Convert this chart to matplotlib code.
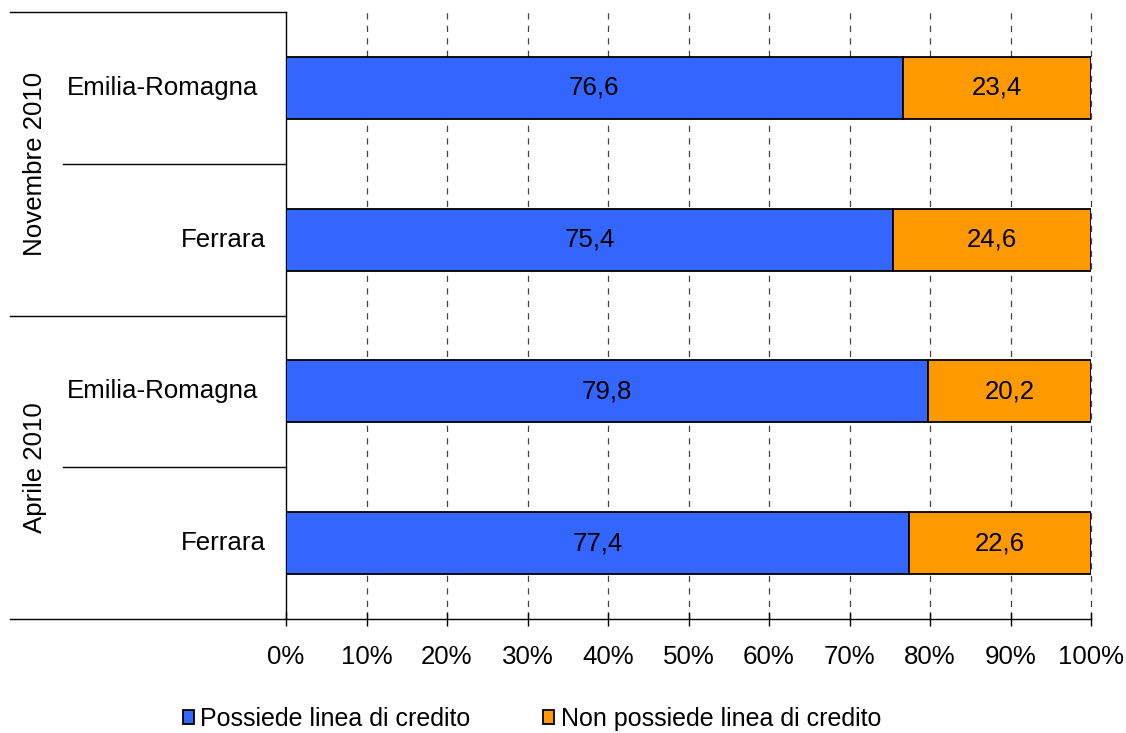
import matplotlib.pyplot as plt
import numpy as np

plt.rcParams['font.family'] = ['Liberation Sans', 'DejaVu Sans']

# data, listed bottom to top
regions = ["Ferrara", "Emilia-Romagna", "Ferrara", "Emilia-Romagna"]
periods = ["Aprile 2010", "Novembre 2010"]
con_credito = [77.4, 79.8, 75.4, 76.6]
senza_credito = [22.6, 20.2, 24.6, 23.4]
x_ticks = [0, 10, 20, 30, 40, 50, 60, 70, 80, 90, 100]

blue = "#3366FF"
orange = "#FF9900"
fs = 18.6

fig = plt.figure(figsize=(11.26, 7.33), dpi=100)
ax = fig.add_axes([286 / 1126, 1 - 619 / 733, 805 / 1126, 607 / 733])

y = np.arange(len(regions))
h = 0.41
b1 = ax.barh(y, con_credito, height=h, color=blue, edgecolor="black", linewidth=1.3,
             label="Possiede linea di credito", zorder=3)
b2 = ax.barh(y, senza_credito, left=con_credito, height=h, color=orange, edgecolor="black",
             linewidth=1.3, label="Non possiede linea di credito", zorder=3)
ax.bar_label(b1, labels=[f"{v:.1f}".replace(".", ",") for v in con_credito],
             label_type="center", fontsize=fs)
ax.bar_label(b2, labels=[f"{v:.1f}".replace(".", ",") for v in senza_credito],
             label_type="center", fontsize=fs)

ax.set_xlim(0, 100)
ax.set_ylim(-0.5, len(regions) - 0.5)
ax.set_xticks(x_ticks)
ax.set_xticklabels([f"{t}%" for t in x_ticks], fontsize=fs)
ax.tick_params(axis="x", direction="inout", length=10, width=1, pad=14, colors="black")
ax.set_yticks([])

# dashed vertical gridlines
for t in x_ticks[1:]:
    ax.axvline(t, color="#444444", linestyle=(0, (5, 5)), linewidth=0.9, zorder=1,
               clip_on=False)

for s in ["top", "right"]:
    ax.spines[s].set_visible(False)
ax.spines["left"].set_linewidth(1)
ax.spines["bottom"].set_linewidth(1)

# region labels
label_right = {"Emilia-Romagna": -28 / 805, "Ferrara": -20 / 805}
for yi, name in zip(y, regions):
    ax.text(label_right[name], yi, name, transform=ax.get_yaxis_transform(),
            ha="right", va="center", fontsize=fs)

# group separators and period labels
tr = ax.get_yaxis_transform()
outer = -276 / 805
inner = -223 / 805
for yb, x0 in [(-0.5, outer), (0.5, inner), (1.5, outer), (2.5, inner), (3.5, outer)]:
    ax.plot([x0, 0], [yb, yb], color="black", linewidth=1, transform=tr, clip_on=False)
for k, p in enumerate(periods):
    ax.text(-251 / 805, 2 * k + 0.5, p, transform=tr, rotation=90,
            ha="center", va="center", fontsize=fs)

fig.legend(handles=[b1, b2], loc="center", bbox_to_anchor=(532 / 1126, 1 - 719 / 733),
           ncol=2, frameon=False, fontsize=18, handlelength=0.45, handleheight=0.45,
           handletextpad=0.25, columnspacing=2.9)

fig.savefig("out.png", dpi=100)
